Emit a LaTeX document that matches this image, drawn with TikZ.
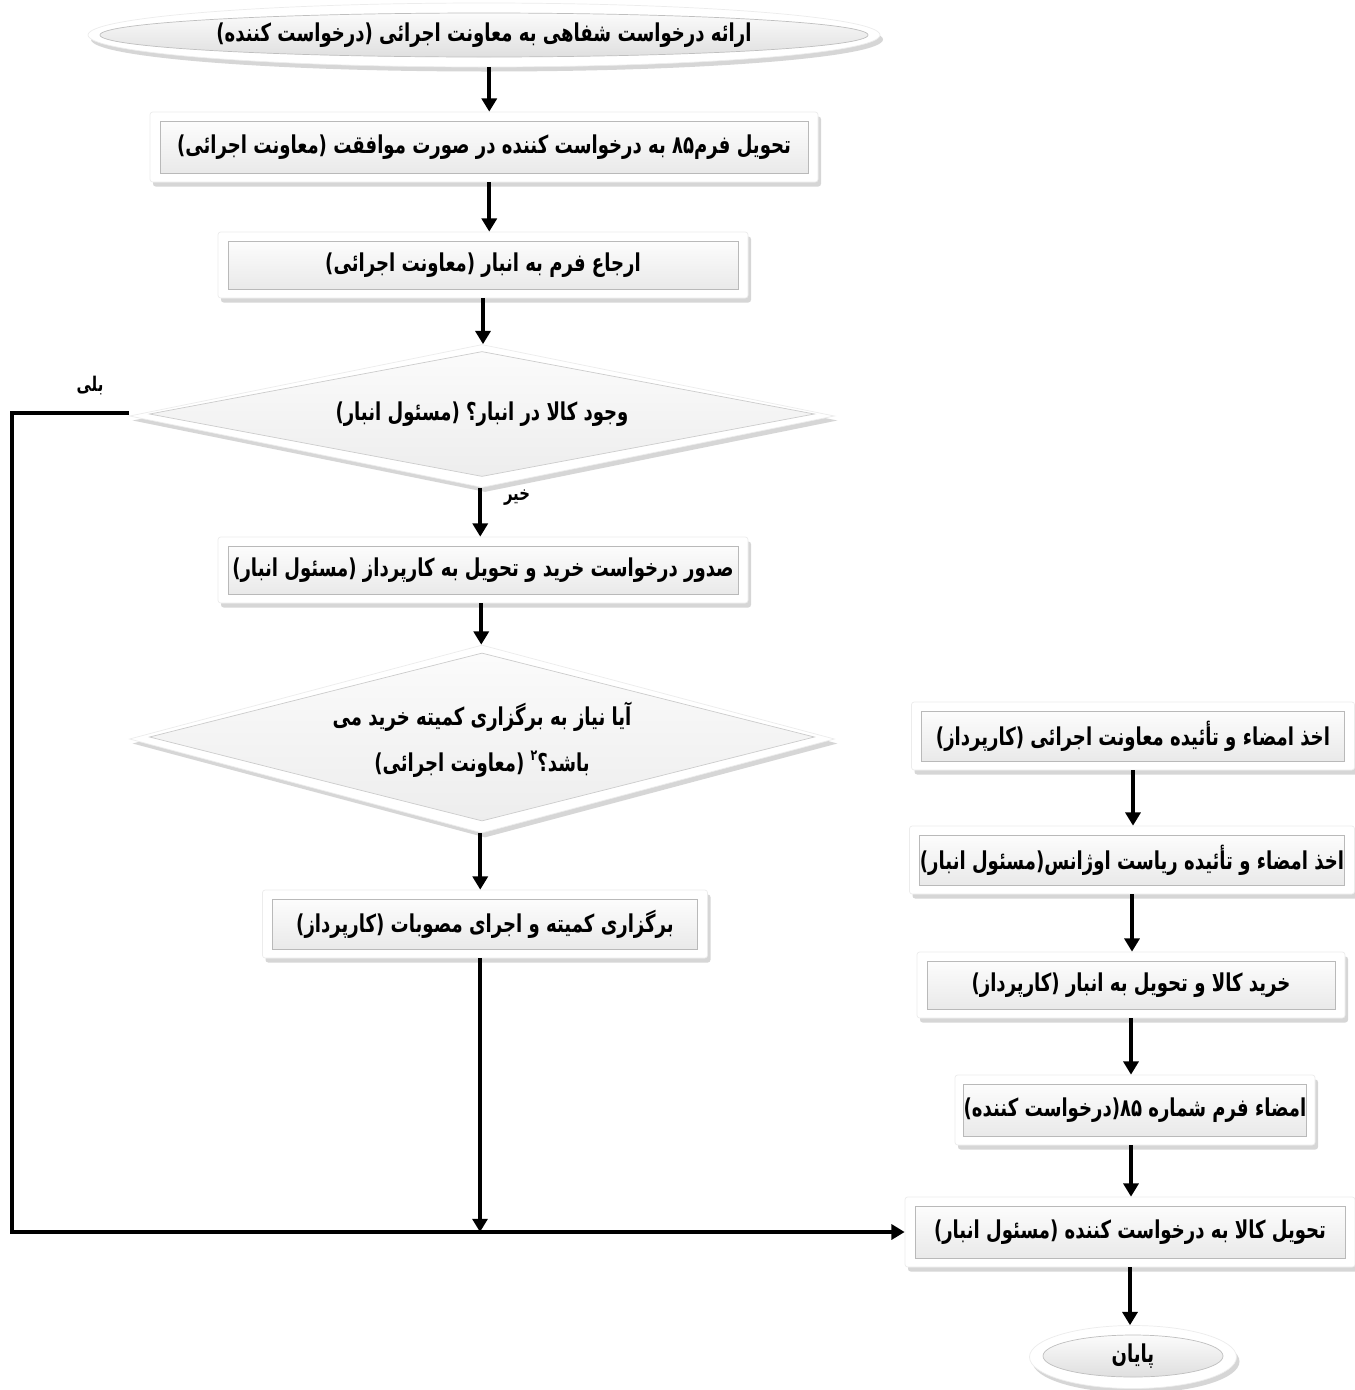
\documentclass[tikz,border=0pt]{standalone}
\usepackage{fontspec}
\TeXXeTstate=1
\newfontfamily\fa[Script=Arabic]{DejaVu Sans}
\usetikzlibrary{shapes.geometric,shadows,arrows.meta}
\tikzset{
  arr/.style={line width=2.2pt, -{Triangle[length=7.5pt,width=8.5pt]}},
  conn/.style={line width=2.2pt},
  shad/.style={drop shadow={shadow xshift=0.6mm, shadow yshift=-0.9mm, fill=gray!70, opacity=0.45}},
  outerbox/.style={rectangle, rounded corners=1.5pt, fill=white, draw=gray!15, shad, inner sep=0pt},
  innerbox/.style={rectangle, top color=gray!2, bottom color=gray!17, draw=gray!55, line width=0.5pt, inner sep=0pt},
  outerdia/.style={diamond, fill=white, draw=gray!15, shad, inner sep=0pt},
  innerdia/.style={diamond, top color=gray!3, bottom color=gray!14, draw=gray!40, inner sep=0pt},
  outerell/.style={ellipse, fill=white, draw=gray!15, shad, inner sep=0pt},
  innerell/.style={ellipse, top color=gray!3, bottom color=gray!25, draw=gray!50, inner sep=0pt},
  txt/.style={font=\fa\bfseries\fontsize{14}{16}\selectfont, text=black},
  lbl/.style={font=\fa\bfseries\fontsize{11.5}{13}\selectfont, text=black}
}
\newcommand{\sq}[1]{\scalebox{0.735}[1]{#1}}
\newcommand{\flowbox}[6]{%
  \node[outerbox, minimum width={#4*0.02cm}, minimum height={#5*0.02cm}] (#1) at (#2,#3) {};
  \node[innerbox, txt, minimum width={(#4-20)*0.02cm}, minimum height={(#5-18)*0.02cm}] (#1t) at (#2,#3) {\sq{#6}};
}
\begin{document}
\begin{tikzpicture}[x=0.02cm,y=-0.02cm]
\useasboundingbox (0,0) rectangle (1355,1390);
\fill[white] (0,0) rectangle (1355,1390);

% start ellipse
\node[outerell, minimum width={792*0.02cm}, minimum height={64*0.02cm}] (start) at (484,35) {};
\node[innerell, minimum width={768*0.02cm}, minimum height={44*0.02cm}] (starti) at (484,35) {};
\node[txt] (startt) at (484,35) {\sq{\beginR ارائه درخواست شفاهی به معاونت اجرائی (درخواست کننده)\endR}};

\flowbox{b1}{484}{147}{668}{70}{\beginR تحویل فرم۸۵ به درخواست کننده در صورت موافقت (معاونت اجرائی)\endR}
\flowbox{b2}{483}{265}{530}{66}{\beginR ارجاع فرم به انبار (معاونت اجرائی)\endR}

% diamond 1
\node[outerdia, minimum width={705*0.02cm}, minimum height={143*0.02cm}] (d1) at (482,416) {};
\node[innerdia, minimum width={665*0.02cm}, minimum height={125*0.02cm}] (d1i) at (482,414) {};
\node[txt] (d1t) at (482,414) {\sq{\beginR وجود کالا در انبار؟ (مسئول انبار)\endR}};

\flowbox{b3}{483}{570}{530}{66}{\beginR صدور درخواست خرید و تحویل به کارپرداز (مسئول انبار)\endR}

% diamond 2
\node[outerdia, minimum width={705*0.02cm}, minimum height={188*0.02cm}] (d2) at (482,739) {};
\node[innerdia, minimum width={665*0.02cm}, minimum height={168*0.02cm}] (d2i) at (482,737) {};
\node[txt, align=center] (d2t) at (482,740) {\sq{\beginR آیا نیاز به برگزاری کمیته خرید می\endR}\\[10pt]\sq{\beginR باشد؟\raisebox{0.8ex}{\fontsize{8.5}{9}\selectfont ۲} (معاونت اجرائی)\endR}};

\flowbox{b4}{485}{924}{445}{68}{\beginR برگزاری کمیته و اجرای مصوبات (کارپرداز)\endR}

% right column
\flowbox{r1}{1133}{736}{443}{68}{\beginR اخذ امضاء و تأئیده معاونت اجرائی (کارپرداز)\endR}
\flowbox{r2}{1132}{860}{445}{68}{\beginR اخذ امضاء و تأئیده ریاست اوژانس(مسئول انبار)\endR}
\flowbox{r3}{1131}{985}{428}{66}{\beginR خرید کالا و تحویل به انبار (کارپرداز)\endR}
\flowbox{r4}{1135}{1110}{360}{70}{\beginR امضاء فرم شماره ۸۵(درخواست کننده)\endR}
\flowbox{r5}{1130}{1232}{450}{70}{\beginR تحویل کالا به درخواست کننده (مسئول انبار)\endR}

% end ellipse
\node[outerell, minimum width={207*0.02cm}, minimum height={63*0.02cm}] (fin) at (1133,1357) {};
\node[innerell, minimum width={180*0.02cm}, minimum height={42*0.02cm}] (fini) at (1133,1356) {};
\node[txt] (fint) at (1133,1356) {\sq{\beginR پایان\endR}};

% labels
\node[lbl] (yes) at (90,386) {\sq{\beginR بلی\endR}};
\node[lbl] (no) at (517,498) {\sq{\beginR خیر\endR}};

% connectors main column
\draw[arr] ([xshift=3pt]start.south) -- ([xshift=3pt]start.south |- b1.north);
\draw[arr] ([xshift=3pt]b1.south) -- ([xshift=3pt]b1.south |- b2.north);
\draw[arr] (b2.south) -- (b2.south |- d1.north);
\draw[arr] ([xshift=-1pt]d1.south) -- ([xshift=-1pt]d1.south |- b3.north);
\draw[arr] ([xshift=-1pt]b3.south) -- ([xshift=-1pt]b3.south |- d2.north);
\draw[arr] ([xshift=-1pt]d2.south) -- ([xshift=-1pt]d2.south |- b4.north);

\coordinate (lt) at (12,413);
\coordinate (lb) at (12,1232);
\coordinate (jn) at (480,1232);
\draw[conn] (d1.west |- lt) -- (lt) -- (lb) -- (jn);
\draw[arr] (jn) -- (r5.west);
\draw[arr] (b4.south -| jn) -- (jn);

% right column connectors
\draw[arr] (r1.south) -- (r1.south |- r2.north);
\draw[arr] (r2.south) -- (r2.south |- r3.north);
\draw[arr] (r3.south) -- (r3.south |- r4.north);
\draw[arr] (r4.south -| r3.south) -- (r3.south |- r5.north);
\draw[arr] (r5.south) -- (r5.south |- fin.north);
\end{tikzpicture}
\end{document}
